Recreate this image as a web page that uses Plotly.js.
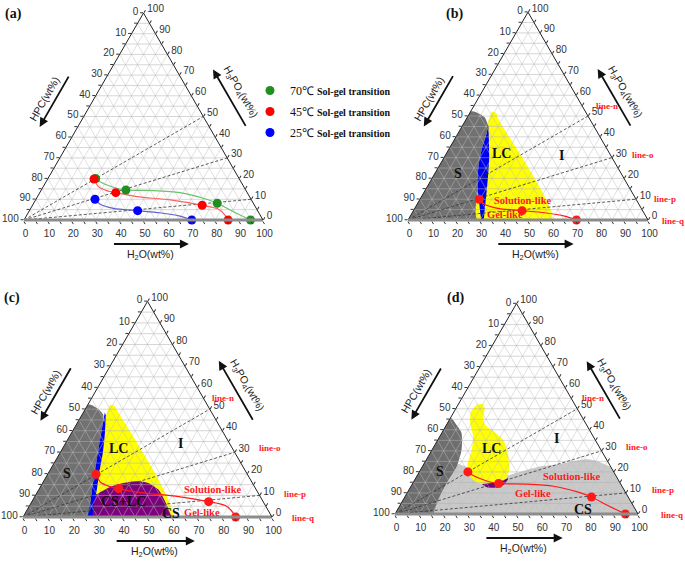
<!DOCTYPE html>
<html>
<head>
<meta charset="utf-8">
<script src="https://cdn.plot.ly/plotly-3.0.1.min.js"></script>
<style>
  html, body { margin: 0; padding: 0; background: #fff; }
  #chart { width: 685px; height: 563px; }
</style>
</head>
<body>
<div id="chart"></div>
<script>
// ───────────────────────────────────────────────
//  HPC / H2O / H3PO4 phase diagrams, four ternary panels
//  compositions are [H2O wt%, H3PO4 wt%], HPC = the rest
// ───────────────────────────────────────────────

const TICK_VALS = [0, 5, 10, 15, 20, 25, 30, 35, 40, 45, 50, 55, 60, 65, 70, 75, 80, 85, 90, 95, 100];
const GRID_VALS = [5, 10, 15, 20, 25, 30, 35, 40, 45, 50, 55, 60, 65, 70, 75, 80, 85, 90, 95];

// dashed rays from the HPC corner to these H3PO4 values on the right edge
const RAY_ACID = [50, 30, 10];

// sol-gel transition points
const sg70 = [[20, 20], [35.4, 14.5], [76.8, 8.1], [94.8, 0]];
const sg45 = [[19.4, 19.8], [31.8, 13.2], [71.0, 7.1], [85.4, 0]];
const sg25 = [[24.7, 10.0], [45.3, 4.5], [70.2, 0]];

// transition curves as traced in the figure
const curve70 = [[20, 20], [22.5, 18.5], [29.5, 15.8], [35.4, 14.5], [47, 14.2], [58.7, 13.2], [69.8, 10.5], [76.8, 8.1], [85.6, 4.0], [94.8, 0]];
const curve45 = [[19.4, 19.8], [23.1, 16.1], [27.5, 14.2], [31.8, 13.2], [41.6, 11.3], [56.3, 9.7], [71.0, 7.1], [78.6, 5.3], [82.9, 2.4], [85.4, 0]];
const curve25 = [[24.7, 10.0], [27.9, 7.7], [34.6, 5.6], [45.3, 4.5], [55.1, 3.5], [64.3, 1.9], [70.2, 0]];

// phase regions, panel (b) 25 C
const bS  = [[0, 0], [0, 52.2], [3.6, 51.4], [7.1, 49.5], [10.3, 45.8], [11.9, 41.8], [13.8, 33.7], [16.5, 25.7], [21, 16], [25.7, 8], [30.7, 0]];
const bLC = [[8.8, 52.2], [11, 51.5], [13, 49], [60, 0], [29, 0], [20, 20], [13, 40], [9.5, 48]];
const bBlue = [[10.0, 46.5], [11.9, 41.8], [13.8, 33.7], [16.5, 25.7], [21, 16], [25.7, 8], [30.7, 0], [31.4, 0], [28.9, 6.4], [25.6, 14.5], [22.2, 22.5], [18.6, 30.5], [14.4, 38.6], [11, 45]];

// panel (c) 45 C
const cS  = [[0, 0], [0, 52.1], [4.3, 50.6], [8.5, 47.4], [13, 35.9], [16.3, 26.6], [19.6, 17.3], [23.2, 8], [26.2, 0]];
const cLC = [[8.9, 52.1], [11, 51.5], [13, 49.5], [60, 0], [27, 0], [20, 20], [13, 40], [9.5, 48]];
const cCSLC = [[27.6, 0], [25.5, 5], [24.1, 9.6], [28, 13.9], [32.4, 15.8], [37.4, 16.6], [42.4, 15.8], [48, 12.7], [53.4, 7.3], [59.7, 0]];
const cBlue = [[8.6, 48.5], [13, 35.9], [16.3, 26.6], [19.6, 17.3], [23.2, 8], [26.2, 0], [27.6, 0], [25.5, 6], [23.3, 12.7], [20.4, 20.4], [17.2, 29.7], [13.4, 39], [9.8, 47]];

// panel (d) 70 C
const dCS = [[13, 0], [100, 0], [78, 22], [76, 23], [71, 25], [66, 26], [60, 25], [55, 23.5], [48, 22.5], [40, 19.5], [34.5, 17.5], [25, 19.5], [18, 22.5], [13.5, 24]];
const dS  = [[0, 0], [0, 45.6], [4.5, 42], [8.1, 38.5], [12.1, 30.6], [14.1, 22.7], [13.9, 14.7], [14.4, 6.8], [15.8, 0]];
const dLC = [[9.7, 52.4], [11.8, 50.4], [13.1, 46.4], [15.8, 42.4], [20.8, 39.3], [26.9, 35.3], [31.9, 29.0], [36.4, 21.1], [37.4, 17.1], [32.8, 13.9], [26.9, 14.7], [21.5, 17.9], [18.2, 23.4], [16.3, 30.6], [13.7, 36.9], [9.3, 43.3], [6.9, 48.8], [7.6, 51.9]];
const dCSLC = [[28.6, 14.3], [31.4, 12.7], [36.5, 12.7], [38.2, 14.7], [38.0, 17.1], [36.1, 15.5], [32.4, 14.7]];

// ───────── geometry of the four triangles (px) ─────────
const FIG_W = 685, FIG_H = 563;
const S3 = Math.sqrt(3) / 2;
const PANELS = [
    { sub: 'ternary',  x0: 24,  yb: 220, w: 239 },
    { sub: 'ternary2', x0: 408, yb: 220, w: 240 },
    { sub: 'ternary3', x0: 23,  yb: 517, w: 249 },
    { sub: 'ternary4', x0: 395, yb: 514, w: 243 }
];

const SANS = 'Liberation Sans, Arial, sans-serif';
const SERIF = 'Liberation Serif, Times New Roman, serif';
const RED = '#ff1a1a';

// a = H3PO4 (top), b = HPC (bottom left), c = H2O (bottom right)
function tern(pairs) {
    return {
        a: pairs.map(p => p[1]),
        b: pairs.map(p => 100 - p[0] - p[1]),
        c: pairs.map(p => p[0])
    };
}

function region(sub, pairs, color, smooth) {
    return Object.assign(tern(pairs), {
        type: 'scatterternary', subplot: sub, mode: 'lines', fill: 'toself',
        fillcolor: color,
        line: { width: 0, color: color, shape: smooth ? 'spline' : 'linear', smoothing: 0.7 },
        hoverinfo: 'skip', showlegend: false
    });
}

function gridTraces(sub) {
    const fams = [{ a: [], b: [], c: [] }, { a: [], b: [], c: [] }, { a: [], b: [], c: [] }];
    GRID_VALS.forEach(v => {
        fams[0].a.push(v, v, null);        fams[0].b.push(100 - v, 0, null); fams[0].c.push(0, 100 - v, null);
        fams[1].a.push(100 - v, 0, null);  fams[1].b.push(v, v, null);       fams[1].c.push(0, 100 - v, null);
        fams[2].a.push(100 - v, 0, null);  fams[2].b.push(0, 100 - v, null); fams[2].c.push(v, v, null);
    });
    return fams.map((f, i) => Object.assign(f, {
        type: 'scatterternary', subplot: sub, mode: 'lines',
        line: { color: i === 0 ? 'rgba(175,175,175,0.65)' : 'rgba(190,190,190,0.6)', width: 0.8 },
        connectgaps: false, hoverinfo: 'skip', showlegend: false
    }));
}

function rayTraces(sub) {
    return RAY_ACID.map(r => Object.assign(tern([[0, 0], [100 - r, r]]), {
        type: 'scatterternary', subplot: sub, mode: 'lines',
        line: { color: '#333', width: 0.8, dash: '3px,2px' },
        hoverinfo: 'skip', showlegend: false
    }));
}

function curve(sub, pairs, color) {
    return Object.assign(tern(pairs), {
        type: 'scatterternary', subplot: sub, mode: 'lines',
        line: { color: color, width: 1.2, shape: 'spline', smoothing: 0.8 },
        hoverinfo: 'skip', showlegend: false
    });
}

function dots(sub, pairs, color, name) {
    return Object.assign(tern(pairs), {
        type: 'scatterternary', subplot: sub, mode: 'markers', name: name || '',
        legendgroup: name || undefined,
        marker: { color: color, size: 9, line: { width: 0 } },
        cliponaxis: false, hoverinfo: 'skip', showlegend: !!name
    });
}

const legendName = (t) => t + ' <b><span style="font-size:10px">Sol-gel transition</span></b>';

const traces = [];
const [pa, pb, pc, pd] = PANELS.map(P => P.sub);

// (a) sol-gel transition curves
traces.push(...gridTraces(pa), ...rayTraces(pa));
traces.push(curve(pa, curve70, '#6cc06c'), curve(pa, curve45, '#ff6060'), curve(pa, curve25, '#6060d0'));
traces.push(dots(pa, sg70, '#1f8f1f', legendName('70℃')));
traces.push(dots(pa, sg45, '#ff0000', legendName('45℃')));
traces.push(dots(pa, sg25, '#0000ff', legendName('25℃')));

// (b)
traces.push(region(pb, bS, '#717171', true), region(pb, bLC, '#ffff00', true), region(pb, bBlue, '#0000f0', true));
traces.push(...gridTraces(pb), ...rayTraces(pb));
traces.push(curve(pb, curve25, RED), dots(pb, sg25, RED));

// (c)
traces.push(region(pc, cS, '#717171', true), region(pc, cLC, '#ffff00', true),
            region(pc, cCSLC, '#7f007f', true), region(pc, cBlue, '#0000f0', true));
traces.push(...gridTraces(pc), ...rayTraces(pc));
traces.push(curve(pc, curve45, RED), dots(pc, sg45, RED));

// (d)
traces.push(region(pd, dCS, '#c9c9c9', true), region(pd, dS, '#6e6e6e', true),
            region(pd, dLC, '#ffff00', true), region(pd, dCSLC, '#7f007f', true));
traces.push(...gridTraces(pd), ...rayTraces(pd));
traces.push(curve(pd, curve70, RED), dots(pd, sg70, RED));

// ───────── layout ─────────
function axis(lineColor, lineWidth) {
    return {
        tickmode: 'array', tickvals: TICK_VALS,
        ticktext: TICK_VALS.map(v => v % 10 === 0 ? String(100 - v) : ''),
        ticks: 'outside', ticklen: 3, tickwidth: 1, tickcolor: '#333',
        tickfont: { family: SANS, size: 10, color: '#333' },
        showgrid: false, showline: true, linecolor: lineColor, linewidth: lineWidth,
        title: { text: '' }, layer: 'above traces'
    };
}

const paper = (x, y) => ({ x: x / FIG_W, y: 1 - y / FIG_H });

function edgePt(P, edge, f, off) {
    const h = P.w * S3;
    if (edge === 'L') return [P.x0 + f * P.w / 2 - off * S3, P.yb - f * h - off * 0.5];
    if (edge === 'R') return [P.x0 + P.w - f * P.w / 2 + off * S3, P.yb - f * h - off * 0.5];
    return [P.x0 + f * P.w, P.yb + off];
}

function textAnn(text, pt, opts) {
    const p = paper(pt[0], pt[1]);
    return Object.assign({
        text: text, x: p.x, y: p.y, xref: 'paper', yref: 'paper',
        showarrow: false, xanchor: 'center', yanchor: 'middle'
    }, opts);
}

function arrowAnn(head, tail) {
    const p = paper(head[0], head[1]);
    return {
        text: '', x: p.x, y: p.y, xref: 'paper', yref: 'paper',
        ax: tail[0] - head[0], ay: tail[1] - head[1], axref: 'pixel', ayref: 'pixel',
        showarrow: true, arrowhead: 2, arrowsize: 1, arrowwidth: 1.8, arrowcolor: '#111', standoff: 0
    };
}

const annotations = [];
const titleFont = { family: SANS, size: 10.5, color: '#222' };
PANELS.forEach(P => {
    annotations.push(textAnn('HPC(wt%)', edgePt(P, 'L', 0.48, 43), { textangle: -60, font: titleFont }));
    annotations.push(textAnn('H<sub>3</sub>PO<sub>4</sub>(wt%)', edgePt(P, 'R', 0.51, 44), { textangle: 60, font: titleFont }));
    annotations.push(textAnn('H<sub>2</sub>O(wt%)', edgePt(P, 'B', 0.53, 35), { font: titleFont }));
    annotations.push(arrowAnn(edgePt(P, 'L', 0.37, 33), edgePt(P, 'L', 0.62, 33)));
    annotations.push(arrowAnn(edgePt(P, 'R', 0.65, 32), edgePt(P, 'R', 0.37, 32)));
    annotations.push(arrowAnn(edgePt(P, 'B', 0.69, 24), edgePt(P, 'B', 0.37, 24)));
});

const boldSerif = (size, color) => ({ family: SERIF, size: size, color: color || '#111', weight: 'bold' });

// panel tags and phase / line labels (pixel positions measured on the figure)
[['(a)', 13, 14], ['(b)', 454, 14], ['(c)', 12, 298], ['(d)', 455, 298]]
    .forEach(t => annotations.push(textAnn(t[0], [t[1], t[2]], { font: boldSerif(14) })));

const PHASE_LABELS = [
    ['S', 457.7, 173.3], ['LC', 501.7, 153.3], ['I', 561, 155],
    ['S', 66.7, 473], ['LC', 118.3, 448], ['I', 180, 443], ['CS+LC', 123.3, 501], ['CS', 170.7, 513],
    ['S', 440, 471.3], ['LC', 491.7, 448], ['I', 556.7, 438], ['CS', 583.3, 509]
];
PHASE_LABELS.forEach(t => annotations.push(textAnn(t[0], [t[1], t[2]], { font: boldSerif(14) })));

const RED_LABELS = [
    ['Solution-like', 523, 200], ['Gel-like', 505, 215],
    ['Solution-like', 213.3, 489.7], ['Gel-like', 201.7, 512.3],
    ['Solution-like', 571.7, 476.3], ['Gel-like', 533.3, 493.7]
];
RED_LABELS.forEach(t => annotations.push(textAnn(t[0], [t[1], t[2]], { font: boldSerif(10.5, RED) })));

const LINE_LABELS = [
    ['line-n', 606.7, 106], ['line-o', 643.3, 155], ['line-p', 665, 199.3], ['line-q', 673.3, 220.7],
    ['line-n', 223.3, 398], ['line-o', 270, 448], ['line-p', 295, 493.7], ['line-q', 302.7, 518],
    ['line-n', 593.3, 398], ['line-o', 636.7, 447.3], ['line-p', 663.3, 490.3], ['line-q', 671.7, 515.3]
];
LINE_LABELS.forEach(t => annotations.push(textAnn(t[0], [t[1], t[2]], { font: boldSerif(9, RED) })));

const layout = {
    width: FIG_W, height: FIG_H,
    margin: { l: 0, r: 0, t: 0, b: 0 },
    paper_bgcolor: '#ffffff',
    showlegend: true,
    legend: {
        x: 250 / FIG_W, y: 1 - 76 / FIG_H, xanchor: 'left', yanchor: 'top',
        bgcolor: 'rgba(0,0,0,0)', borderwidth: 0,
        font: { family: SERIF, size: 12, color: '#111' },
        tracegroupgap: 2, itemwidth: 30
    },
    annotations: annotations
};

PANELS.forEach(P => {
    const h = P.w * S3;
    layout[P.sub] = {
        sum: 100,
        bgcolor: 'rgba(0,0,0,0)',
        domain: {
            x: [P.x0 / FIG_W, (P.x0 + P.w) / FIG_W],
            y: [1 - P.yb / FIG_H, 1 - (P.yb - h) / FIG_H]
        },
        aaxis: axis('#222', 1),
        baxis: axis('#8c8c8c', 3),
        caxis: axis('#222', 1)
    };
});

Plotly.newPlot('chart', traces, layout, { displayModeBar: false, staticPlot: true });
</script>
</body>
</html>
